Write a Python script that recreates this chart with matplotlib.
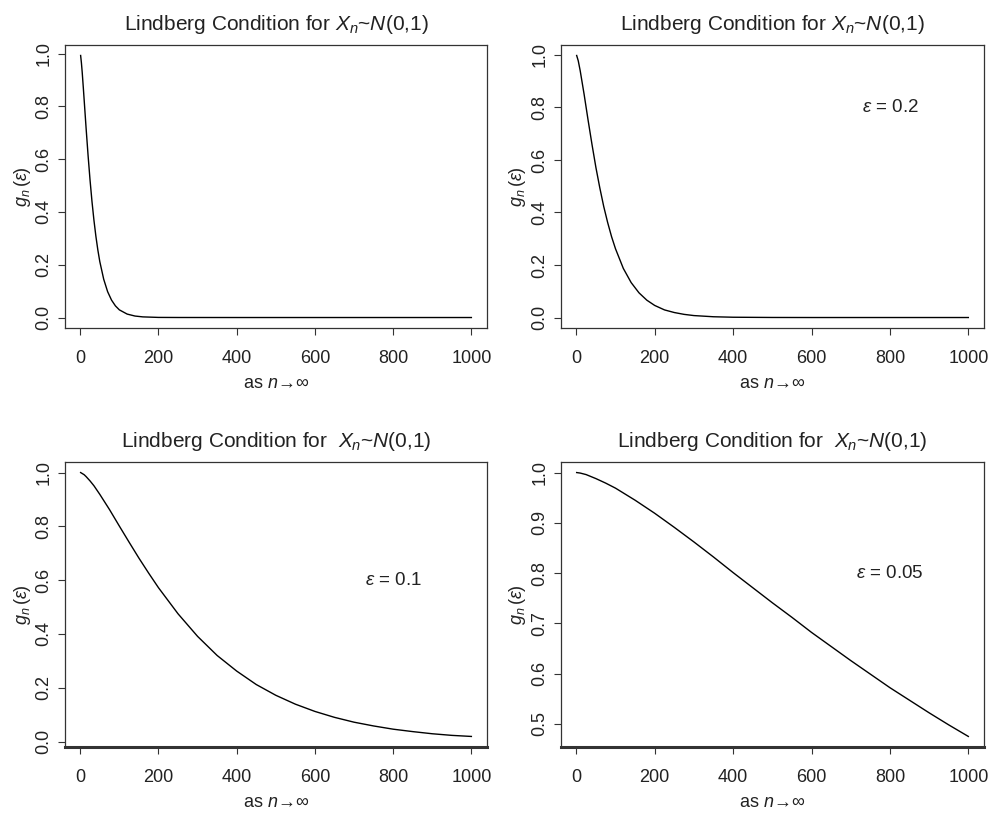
import matplotlib
matplotlib.use('Agg')
import matplotlib.pyplot as plt

plt.rcParams['font.family'] = ['Liberation Sans', 'DejaVu Sans']
plt.rcParams['mathtext.fontset'] = 'custom'
plt.rcParams['mathtext.rm'] = 'Liberation Sans'
plt.rcParams['mathtext.it'] = 'Liberation Sans:italic'
plt.rcParams['mathtext.bf'] = 'Liberation Sans:bold'

# g_n(eps)
n_a = [1, 3, 5, 8, 10, 15, 20, 25, 30, 35, 40, 45, 50, 60, 70, 80, 90, 100,
       120, 140, 160, 200, 250, 400, 600, 800, 1000]
g_a = [0.993, 0.965, 0.930, 0.868, 0.825, 0.717, 0.615, 0.522, 0.440, 0.369,
       0.308, 0.256, 0.212, 0.145, 0.098, 0.066, 0.044, 0.029,
       0.013, 0.0056, 0.0024, 0.0004, 0.0001, 0.0, 0.0, 0.0, 0.0]

n_b = [1, 5, 10, 20, 30, 40, 50, 60, 70, 80, 90, 100, 120, 140, 160, 180,
       200, 225, 250, 275, 300, 350, 400, 500, 600, 800, 1000]
g_b = [0.998, 0.978, 0.940, 0.850, 0.753, 0.660, 0.572, 0.494, 0.423, 0.362,
       0.308, 0.262, 0.187, 0.133, 0.094, 0.066,
       0.046, 0.029, 0.019, 0.012, 0.0074, 0.0029, 0.0011, 0.0002, 0.0, 0.0, 0.0]

n_c = [1, 10, 15, 25, 35, 50, 75, 100, 125, 150, 175, 200, 250, 300, 350, 400,
       450, 500, 550, 600, 650, 700, 750, 800, 850, 900, 950, 1000]
g_c = [1.000, 0.992, 0.985, 0.969, 0.951, 0.919, 0.862, 0.801, 0.741, 0.682,
       0.626, 0.572, 0.475, 0.391, 0.320, 0.262, 0.212, 0.172, 0.139, 0.112,
       0.090, 0.072, 0.058, 0.046, 0.037, 0.029, 0.023, 0.019]

n_d = [1, 10, 25, 50, 75, 100, 150, 200, 250, 300, 350, 400, 450, 500, 550,
       600, 650, 700, 750, 800, 850, 900, 950, 1000]
g_d = [1.000, 0.999, 0.996, 0.988, 0.979, 0.969, 0.945, 0.919, 0.891, 0.862,
       0.832, 0.801, 0.771, 0.741, 0.712, 0.682, 0.654, 0.626, 0.599, 0.572,
       0.547, 0.522, 0.498, 0.475]

eps_labels = [None, '0.2', '0.1', '0.05']
eps_y = [None, 0.8, 0.6, 0.8]
titles = [r'Lindberg Condition for $X_n$~$N$(0,1)',
          r'Lindberg Condition for $X_n$~$N$(0,1)',
          r'Lindberg Condition for  $X_n$~$N$(0,1)',
          r'Lindberg Condition for  $X_n$~$N$(0,1)']
yticks_small = [0.0, 0.2, 0.4, 0.6, 0.8, 1.0]
yticks_d = [0.5, 0.6, 0.7, 0.8, 0.9, 1.0]
xticks = [0, 200, 400, 600, 800, 1000]

W, H = 996, 813
fig = plt.figure(figsize=(W / 100, H / 100), dpi=100)

boxes = [(65, 45, 487, 328), (561, 45, 984, 328),
         (65, 462, 487, 747), (561, 462, 984, 747)]
data = [(n_a, g_a), (n_b, g_b), (n_c, g_c), (n_d, g_d)]
frame = '#333333'
ink = '#222222'

for i, ((x0, y0, x1, y1), (n, g)) in enumerate(zip(boxes, data)):
    ax = fig.add_axes([x0 / W, 1 - y1 / H, (x1 - x0) / W, (y1 - y0) / H])
    ax.plot(n, g, color='black', lw=1.0)
    ax.margins(x=0.04, y=0.04)
    yt = yticks_d if i == 3 else yticks_small
    ax.set_xticks(xticks)
    ax.set_yticks(yt)
    ax.set_yticklabels(['%.1f' % v for v in yt])
    for s in ax.spines.values():
        s.set_color(frame)
        s.set_linewidth(0.9)
    if i >= 2:
        ax.spines['bottom'].set_linewidth(2.2)
    ax.tick_params(direction='out', length=5, width=0.8, color=frame,
                   labelsize=13, labelcolor=ink)
    ax.tick_params(axis='x', pad=11)
    ax.tick_params(axis='y', pad=4)
    for lab in ax.get_yticklabels():
        lab.set_rotation(90)
        lab.set_va('center')
    ax.set_title(titles[i], fontsize=15, pad=11, color=ink)
    ax.set_xlabel(r'as $n$→∞', fontsize=13, color=ink)
    ax.xaxis.set_label_coords(0.5, -0.165)
    ax.set_ylabel(r'$g_n\,(\varepsilon)$', fontsize=13, color=ink)
    ax.yaxis.set_label_coords(-0.077, 0.5)
    if eps_labels[i]:
        ax.text(800, eps_y[i], r'$\varepsilon$ = ' + eps_labels[i],
                ha='center', va='center', fontsize=13.5, color=ink)

fig.savefig('out.png', dpi=100)
